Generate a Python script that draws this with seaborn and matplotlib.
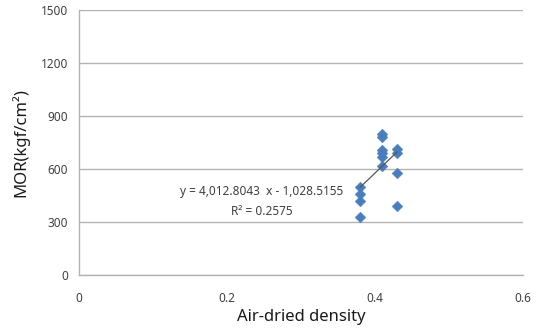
import numpy as np
import pandas as pd
import matplotlib
matplotlib.use("Agg")
import matplotlib.pyplot as plt
import seaborn as sns

# Air-dried density and modulus of rupture per specimen
density = [0.38, 0.38, 0.38, 0.38,
           0.41, 0.41, 0.41, 0.41, 0.41, 0.41,
           0.43, 0.43, 0.43, 0.43]
mor = [500, 458, 420, 330,
       798, 779, 707, 689, 670, 619,
       711, 689, 576, 392]

# Linear trendline coefficients
slope = 4012.8043
intercept = -1028.5155
r_squared = 0.2575

x_ticks = [0, 0.2, 0.4, 0.6]
x_tick_labels = ["0", "0.2", "0.4", "0.6"]
y_ticks = [0, 300, 600, 900, 1200, 1500]

df = pd.DataFrame({"density": density, "mor": mor})

sns.set_theme(style="white")
plt.rcParams["font.family"] = ["Noto Sans", "DejaVu Sans"]

fig = plt.figure(figsize=(5.39, 3.35), dpi=100)
ax = fig.add_axes([0.1466, 0.179, 0.8234, 0.791])

grid_c = "#b3b3b3"
ax.set_axisbelow(True)
ax.yaxis.grid(True, color=grid_c, linewidth=1.0)
ax.xaxis.grid(False)

sns.scatterplot(data=df, x="density", y="mor", ax=ax, marker="D", s=30,
                color="#4a7ebb", edgecolor="#4a7ebb", linewidth=0.3, zorder=3)

# trendline over the data range
xs = np.array([min(density), max(density)])
ax.plot(xs, slope * xs + intercept, color="#555555", linewidth=0.9, zorder=4)

ax.set_xlim(0, 0.6)
ax.set_ylim(0, 1500)
ax.set_xticks(x_ticks)
ax.set_xticklabels(x_tick_labels)
ax.set_yticks(y_ticks)

for side in ["top", "right"]:
    ax.spines[side].set_visible(False)
for side in ["left", "bottom"]:
    ax.spines[side].set_color(grid_c)
    ax.spines[side].set_linewidth(1.0)

ax.tick_params(axis="both", which="major", direction="out", length=4,
               width=1.0, color=grid_c, labelsize=8.5, labelcolor="#404040")
ax.tick_params(axis="x", pad=8)
ax.tick_params(axis="y", pad=4)

ax.set_xlabel("Air-dried density", fontsize=12, color="#1a1a1a", labelpad=3)
ax.set_ylabel("MOR(kgf/cm\u00b2)", fontsize=12, color="#1a1a1a", labelpad=8)

ax.text(0.2473, 475, "y = 4,012.8043  x - 1,028.5155", fontsize=8.5,
        color="#404040", ha="center", va="center")
ax.text(0.2473, 362, f"R\u00b2 = {r_squared:.4f}", fontsize=8.5,
        color="#404040", ha="center", va="center")

fig.savefig("out.png", dpi=100)
